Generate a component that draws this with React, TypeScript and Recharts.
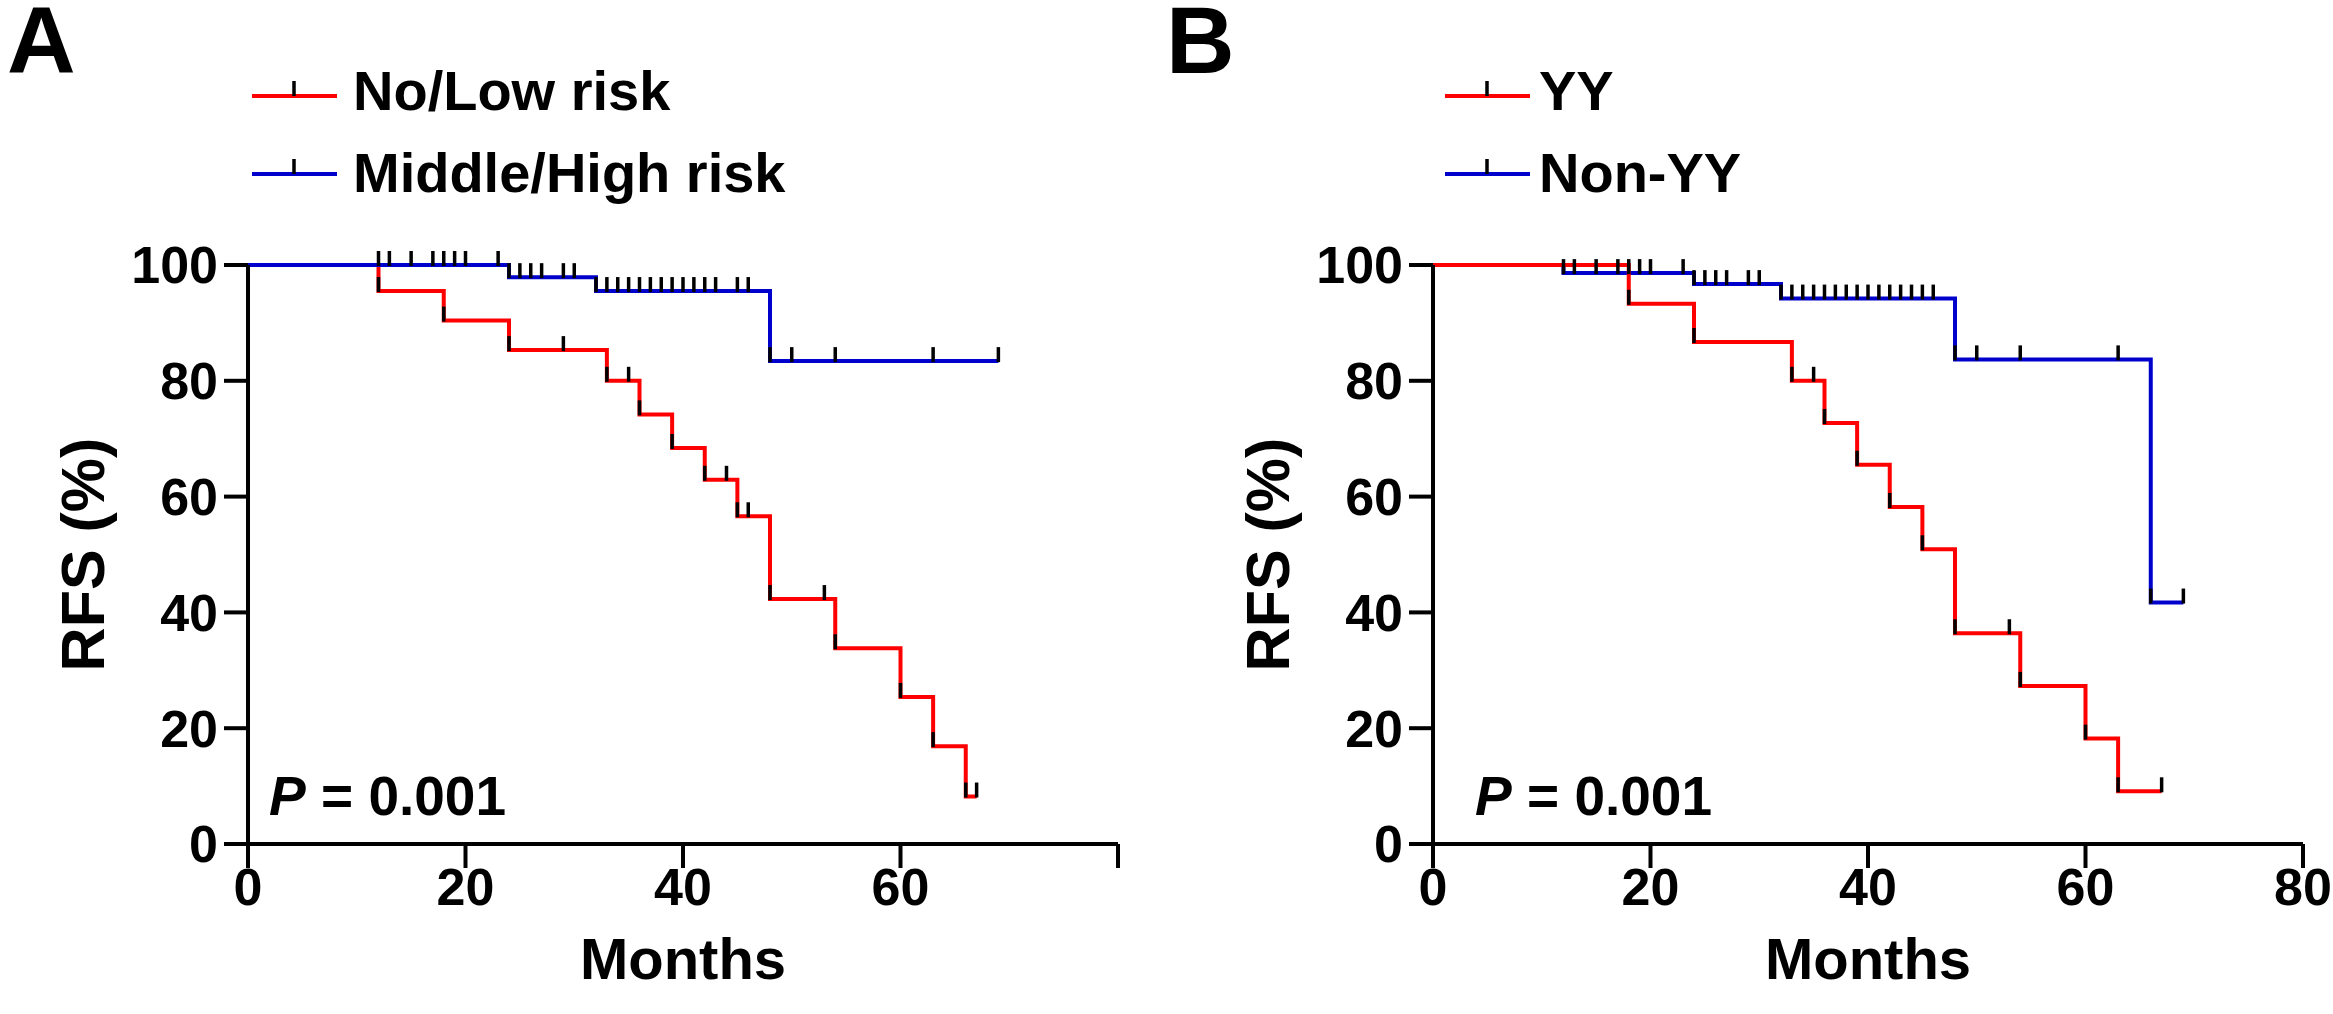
import React from "react";
import { ComposedChart, Line, Scatter, XAxis, YAxis } from "recharts";

const FONT = '"Liberation Sans", Arial, Helvetica, sans-serif';
const RED = "#ff0000";
const BLUE = "#0000cc";

// Kaplan-Meier steps [month, RFS %]
const lowRiskSteps = [
  [0, 100], [12, 95.5], [18, 90.4], [24, 85.3], [33, 80.0], [36, 74.2], [39, 68.4],
  [42, 62.9], [45, 56.6], [48, 42.3], [54, 33.8], [60, 25.4], [63, 16.9], [66, 8.2], [67, 8.2],
];
const lowRiskCensored = [29, 35, 44, 46, 53, 67];

const highRiskSteps = [[0, 100], [24, 97.9], [32, 95.5], [48, 83.4], [69, 83.4]];
const highRiskCensored = [
  12, 13, 15, 17, 18, 19, 20, 23, 25, 26, 27, 29, 30,
  33, 34, 35, 36, 37, 38, 39, 40, 41, 42, 43, 45, 46, 50, 54, 63, 69,
];

const yySteps = [
  [0, 100], [18, 93.3], [24, 86.7], [33, 80.0], [36, 72.7], [39, 65.5], [42, 58.2],
  [45, 50.9], [48, 36.4], [54, 27.3], [60, 18.2], [63, 9.1], [67, 9.1],
];
const yyCensored = [35, 53, 67];

const nonYySteps = [[0, 100], [12, 98.6], [24, 96.7], [32, 94.2], [48, 83.7], [66, 41.7], [69, 41.7]];
const nonYyCensored = [
  13, 15, 17, 18, 19, 20, 23, 25, 26, 27, 29, 30,
  33, 34, 35, 36, 37, 38, 39, 40, 41, 42, 43, 44, 45, 46, 50, 54, 63, 69,
];

const monthTicks = [0, 20, 40, 60, 80];
const rfsTicks = [0, 20, 40, 60, 80, 100];

const legendA = ["No/Low risk", "Middle/High risk"];
const legendB = ["YY", "Non-YY"];
const pValue = "0.001";

type Step = number[];

const levelAt = (steps: Step[], t: number) => {
  let v = steps[0][1];
  for (const [st, sv] of steps) if (st <= t) v = sv;
  return v;
};

// censor marks plus the little black marks GraphPad leaves at every drop
const marksFor = (steps: Step[], censored: number[]) => {
  const drops = steps
    .filter((p, i) => i > 0 && p[1] < steps[i - 1][1])
    .map(([t, s]) => ({ t, s }));
  const cens = censored.map((t) => ({ t, s: levelAt(steps, t) }));
  return [...drops, ...cens];
};

const CensorMark = (props: any) => {
  const { cx, cy } = props;
  if (cx == null || cy == null) return null;
  return <line x1={cx} x2={cx} y1={cy + 1} y2={cy - 14} stroke="#000" strokeWidth={3.5} />;
};

const PLOT_W = 870;
const PLOT_H = 579;
const TOP = 265;
const AXIS_W = 248;

interface Series {
  name: string;
  color: string;
  steps: Step[];
  censored: number[];
}

function KMPanel({ left, width, series, hideLast }: { left: number; width: number; series: Series[]; hideLast?: boolean }) {
  const textStyle = { fill: "#000", fontSize: 52, fontWeight: 700, fontFamily: FONT };
  return (
    <div style={{ position: "absolute", left, top: 0 }}>
      <ComposedChart
        width={width}
        height={1014}
        margin={{ top: TOP, right: width - AXIS_W - PLOT_W, bottom: 0, left: 0 }}
      >
        <XAxis
          type="number"
          dataKey="t"
          domain={[0, 80]}
          ticks={monthTicks}
          interval={0}
          allowDataOverflow
          height={1014 - TOP - PLOT_H}
          tickSize={24}
          tickMargin={0}
          axisLine={{ stroke: "#000", strokeWidth: 4 }}
          tickLine={{ stroke: "#000", strokeWidth: 4 }}
          tick={textStyle}
          tickFormatter={(v: number) => (hideLast && v === 80 ? "" : String(v))}
          label={{ value: "Months", position: "center", dy: 29, fill: "#000", fontSize: 58, fontWeight: 700, fontFamily: FONT }}
        />
        <YAxis
          type="number"
          dataKey="s"
          domain={[0, 100]}
          ticks={rfsTicks}
          interval={0}
          width={AXIS_W}
          tickSize={24}
          tickMargin={6}
          axisLine={{ stroke: "#000", strokeWidth: 4 }}
          tickLine={{ stroke: "#000", strokeWidth: 4 }}
          tick={textStyle}
          label={{ value: "RFS (%)", angle: -90, position: "center", dx: -42, fill: "#000", fontSize: 61, fontWeight: 700, fontFamily: FONT }}
        />
        {series.map((s) => (
          <Line
            key={s.name}
            name={s.name}
            data={s.steps.map(([t, v]) => ({ t, s: v }))}
            dataKey="s"
            type="stepAfter"
            stroke={s.color}
            strokeWidth={4}
            dot={false}
            activeDot={false}
            isAnimationActive={false}
          />
        ))}
        {series.map((s) => (
          <Scatter
            key={s.name + "-marks"}
            name={s.name + " censored"}
            data={marksFor(s.steps, s.censored)}
            dataKey="s"
            shape={<CensorMark />}
            isAnimationActive={false}
          />
        ))}
      </ComposedChart>
    </div>
  );
}

function Legend({ x, textX, names, colors }: { x: number; textX: number; names: string[]; colors: string[] }) {
  return (
    <g>
      {names.map((n, i) => {
        const y = 96 + i * 78;
        const textY = 110 + i * 82;
        return (
          <g key={n}>
            <line x1={x} x2={x + 85} y1={y} y2={y} stroke={colors[i]} strokeWidth={4} />
            <line x1={x + 42} x2={x + 42} y1={y} y2={y - 15} stroke="#000" strokeWidth={3.5} />
            <text x={textX} y={textY} fontSize={56} fontWeight={700} fontFamily={FONT} fill="#000">
              {n}
            </text>
          </g>
        );
      })}
    </g>
  );
}

export default function App() {
  const panelA: Series[] = [
    { name: legendA[0], color: RED, steps: lowRiskSteps, censored: lowRiskCensored },
    { name: legendA[1], color: BLUE, steps: highRiskSteps, censored: highRiskCensored },
  ];
  const panelB: Series[] = [
    { name: legendB[1], color: BLUE, steps: nonYySteps, censored: nonYyCensored },
    { name: legendB[0], color: RED, steps: yySteps, censored: yyCensored },
  ];
  return (
    <div style={{ position: "absolute", left: 0, top: 0, width: 2333, height: 1014, background: "#fff", overflow: "hidden" }}>
      <KMPanel left={0} width={1160} series={panelA} hideLast />
      <KMPanel left={1185} width={1148} series={panelB} />
      <svg width={2333} height={1014} style={{ position: "absolute", left: 0, top: 0, pointerEvents: "none" }}>
        <text x={7} y={73} fontSize={95} fontWeight={700} fontFamily={FONT} fill="#000">A</text>
        <text x={1166} y={73} fontSize={95} fontWeight={700} fontFamily={FONT} fill="#000">B</text>
        <Legend x={252} textX={353} names={legendA} colors={[RED, BLUE]} />
        <Legend x={1445} textX={1539} names={legendB} colors={[RED, BLUE]} />
        <text x={269} y={815} fontSize={55} fontWeight={700} fontFamily={FONT} fill="#000">
          <tspan fontStyle="italic">P</tspan> = {pValue}
        </text>
        <text x={1475} y={815} fontSize={55} fontWeight={700} fontFamily={FONT} fill="#000">
          <tspan fontStyle="italic">P</tspan> = {pValue}
        </text>
      </svg>
    </div>
  );
}
